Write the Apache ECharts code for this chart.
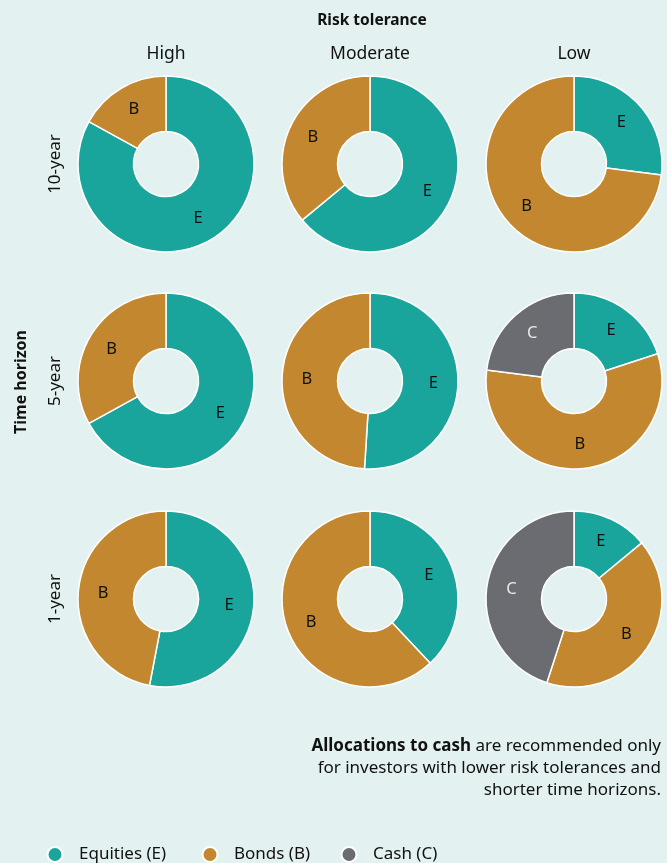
<!DOCTYPE html>
<html>
<head>
<meta charset="utf-8">
<script src="https://cdn.jsdelivr.net/npm/echarts@6/dist/echarts.min.js"></script>
<style>
  html, body { margin: 0; padding: 0; background: #e3f2f0; }
  #chart { width: 667px; height: 863px; }
</style>
</head>
<body>
<div id="chart"></div>
<script>
// risk tolerance columns, time horizon rows
const riskLevels = ['High', 'Moderate', 'Low']
const horizons = ['10-year', '5-year', '1-year']
const assetNames = ['Equities (E)', 'Bonds (B)', 'Cash (C)']
const assetLetters = ['E', 'B', 'C']

// allocation % per row (horizon) and column (risk)
const equities = [[83, 64, 27], [67, 51, 20], [53, 38, 14]]
const bonds = [[17, 36, 73], [33, 49, 57], [47, 62, 41]]
const cash = [[0, 0, 0], [0, 0, 23], [0, 0, 45]]

const colors = ['#1aa59c', '#c2872f', '#6b6c71']
const font = 'Noto Sans'

const chart = echarts.init(document.getElementById('chart'))

const colX = [166, 370, 574]
const rowY = [164, 381, 599]

const series = []
horizons.forEach((h, r) => {
  riskLevels.forEach((risk, c) => {
    const vals = [equities[r][c], bonds[r][c], cash[r][c]]
    const data = []
    vals.forEach((v, i) => {
      if (v > 0) {
        data.push({
          name: assetNames[i],
          value: v,
          itemStyle: { color: colors[i] },
          label: { color: i === 2 ? '#e8e8e8' : '#111' }
        })
      }
    })
    series.push({
      name: h + ' ' + risk,
      type: 'pie',
      center: [colX[c], rowY[r]],
      radius: [32.5, 88],
      startAngle: 90,
      clockwise: true,
      avoidLabelOverlap: false,
      silent: true,
      itemStyle: { borderColor: '#ffffff', borderWidth: 1.5 },
      label: {
        show: true,
        position: 'inside',
        fontFamily: font,
        fontSize: 16.5,
        formatter: p => assetLetters[assetNames.indexOf(p.name)]
      },
      labelLine: { show: false },
      data: data
    })
  })
})

const graphics = [
  {
    type: 'text', x: 372, y: 21,
    style: { text: 'Risk tolerance', font: 'bold 15.5px "' + font + '"', fill: '#111', textAlign: 'center', textVerticalAlign: 'middle' }
  },
  {
    type: 'text', x: 21, y: 382, rotation: Math.PI / 2,
    style: { text: 'Time horizon', font: 'bold 16px "' + font + '"', fill: '#111', textAlign: 'center', textVerticalAlign: 'middle' }
  },
  {
    type: 'text', x: 661, y: 735,
    style: {
      text: '{b|Allocations to cash} are recommended only\nfor investors with lower risk tolerances and\nshorter time horizons.',
      font: '17px "' + font + '"',
      fill: '#111',
      textAlign: 'right',
      textVerticalAlign: 'top',
      lineHeight: 22,
      rich: { b: { fontWeight: 'bold', fontSize: 17, fontFamily: font, lineHeight: 22 } }
    }
  }
]
riskLevels.forEach((risk, c) => {
  graphics.push({
    type: 'text', x: colX[c], y: 54,
    style: { text: risk, font: '17.5px "' + font + '"', fill: '#111', textAlign: 'center', textVerticalAlign: 'middle' }
  })
})
horizons.forEach((h, r) => {
  graphics.push({
    type: 'text', x: 55, y: rowY[r], rotation: Math.PI / 2,
    style: { text: h, font: '17px "' + font + '"', fill: '#111', textAlign: 'center', textVerticalAlign: 'middle' }
  })
})

// one legend per asset so the circles sit where the reference has them
const legendLeft = [41.5, 196.5, 335.5]
const legends = assetNames.map((n, i) => ({
  left: legendLeft[i],
  top: 841,
  icon: 'circle',
  itemWidth: 15,
  itemHeight: 15,
  selectedMode: false,
  data: [{ name: n, itemStyle: { color: colors[i] } }],
  textStyle: { fontFamily: font, fontSize: 17, color: '#111', padding: [0, 0, 0, 11.5] }
}))

chart.setOption({
  backgroundColor: '#e3f2f0',
  animation: false,
  legend: legends,
  graphic: graphics,
  series: series
})
</script>
</body>
</html>
